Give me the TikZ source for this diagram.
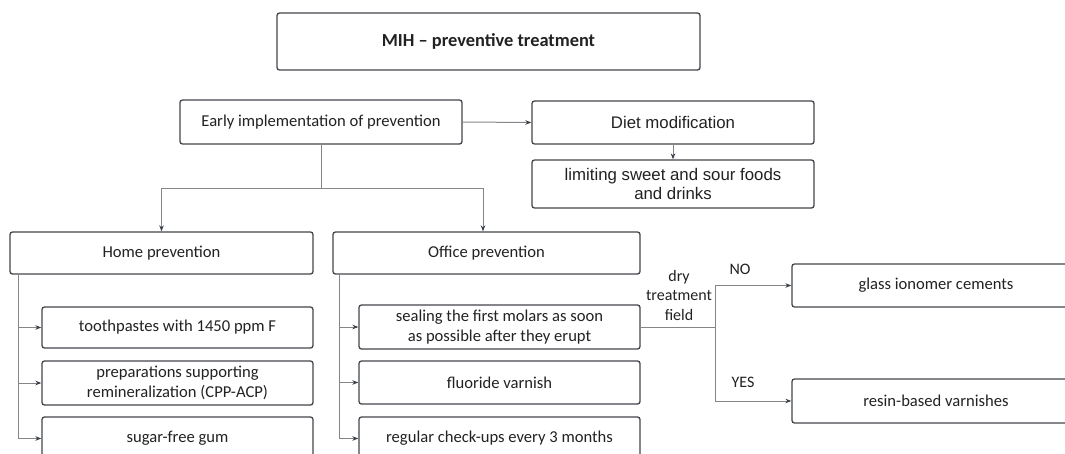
\documentclass[tikz,border=0pt]{standalone}
\usepackage{fontspec}
\setmainfont{Carlito}
\newfontfamily\arialf{Liberation Sans}
\usetikzlibrary{arrows.meta}
\definecolor{boxline}{HTML}{45464B}
\definecolor{connline}{HTML}{85868A}
\definecolor{tipcol}{HTML}{3A4048}
\definecolor{txt}{HTML}{222222}
\begin{document}
\begin{tikzpicture}[x=1pt,y=-1pt,
  box/.style={draw=boxline,line width=1.3pt,rounded corners=2.5pt,inner sep=0pt,
    align=center,text=txt,font=\fontsize{16.6}{20}\selectfont},
  abox/.style={box,font=\arialf\fontsize{16.8}{19}\selectfont},
  conn/.style={draw=connline,line width=1pt},
  arr/.style={conn,-{Stealth[length=6pt,width=4.5pt,fill=tipcol,color=tipcol]}},
  lbl/.style={inner sep=0pt,align=center,text=txt,font=\fontsize{16}{19.5}\selectfont}]
\clip (0,0) rectangle (1065,453);
\fill[white] (0,0) rectangle (1065,453);
% top
\node[box,minimum width=423,minimum height=57,font=\bfseries\fontsize{18.4}{22}\selectfont] (title) at (488.5,41.5) {MIH -- preventive treatment};
\node[box,minimum width=282,minimum height=44] (early) at (321,122) {Early implementation of prevention};
\node[abox,minimum width=282,minimum height=43] (diet) at (673,122.5) {Diet modification};
\node[abox,minimum width=282,minimum height=48] (limit) at (673,184) {limiting sweet and sour foods\\and drinks};
% second level
\node[box,minimum width=303,minimum height=42] (home) at (161.5,253) {Home prevention};
\node[box,minimum width=307,minimum height=42] (office) at (486.5,253) {Office prevention};
% home items
\node[box,minimum width=271,minimum height=41] (tooth) at (177.5,327.5) {toothpastes with 1450 ppm F};
\node[box,minimum width=271,minimum height=44] (prep) at (177.5,383) {preparations supporting\\remineralization (CPP-ACP)};
\node[box,minimum width=271,minimum height=43] (gum) at (177.5,438.5) {sugar-free gum};
% office items
\node[box,minimum width=281,minimum height=44] (seal) at (499.5,327) {sealing the first molars as soon\\as possible after they erupt};
\node[box,minimum width=281,minimum height=43] (fluor) at (499.5,382.5) {fluoride varnish};
\node[box,minimum width=281,minimum height=43] (reg) at (499.5,438.5) {regular check-ups every 3 months};
% right
\node[box,minimum width=288,minimum height=43] (glass) at (936,285.5) {glass ionomer cements};
\node[box,minimum width=288,minimum height=44] (resin) at (936,401) {resin-based varnishes};
% labels
\node[lbl] (dry) at (679,295) {dry\\treatment\\field};
\node[lbl] (no) at (740,269) {NO};
\node[lbl] (yes) at (743,382) {YES};
% connectors
\draw[arr] (early.east) -- (diet.west);
\draw[arr] (diet.south) -- (limit.north);
\draw[conn] (early.south) -- ++(0,44) coordinate (fork);
\draw[arr] (fork) -| (home.north);
\draw[arr] (fork) -| ([xshift=-3.5pt]office.north);
\coordinate (hl) at ([xshift=9]home.south west);
\draw[arr] (hl) |- (tooth.west);
\draw[arr] (hl) |- (prep.west);
\draw[arr] (hl) |- (gum.west);
\coordinate (ol) at ([xshift=7]office.south west);
\draw[arr] (ol) |- (seal.west);
\draw[arr] (ol) |- (fluor.west);
\draw[arr] (ol) |- (reg.west);
\draw[conn] (seal.east) -- ++(75,0) coordinate (split);
\draw[arr] (split) |- (glass.west);
\draw[arr] (split) |- (resin.west);
\end{tikzpicture}
\end{document}
